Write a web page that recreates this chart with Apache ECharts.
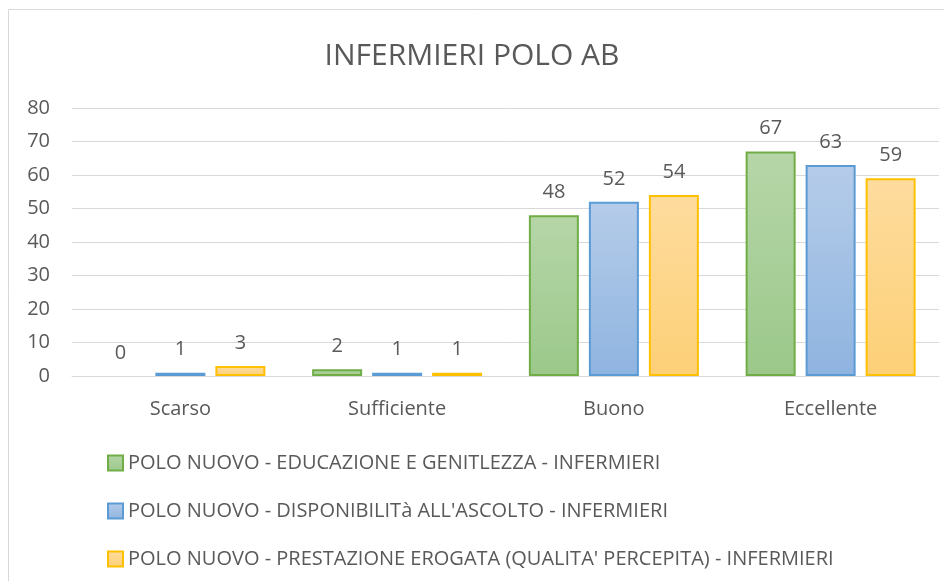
<!DOCTYPE html>
<html>
<head>
<meta charset="utf-8">
<script src="https://cdn.jsdelivr.net/npm/echarts@6/dist/echarts.min.js"></script>
<style>
  html, body { margin: 0; padding: 0; background: #fff; }
  #chart { width: 944px; height: 581px; }
</style>
</head>
<body>
<div id="chart"></div>
<script>
// categorie asse x
var categorie = ['Scarso', 'Sufficiente', 'Buono', 'Eccellente']
// serie
var nomiSerie = [
  'POLO NUOVO - EDUCAZIONE E GENITLEZZA - INFERMIERI',
  "POLO NUOVO - DISPONIBILITà ALL'ASCOLTO - INFERMIERI",
  "POLO NUOVO - PRESTAZIONE EROGATA (QUALITA' PERCEPITA) - INFERMIERI",
]
var educazione = [0, 2, 48, 67]
var disponibilita = [1, 1, 52, 63]
var prestazione = [3, 1, 54, 59]

var chart = echarts.init(document.getElementById('chart'))
var font = 'Open Sans'
var grigio = '#595959'

function grad(top, bottom) {
  return new echarts.graphic.LinearGradient(0, 0, 0, 1, [
    { offset: 0, color: top },
    { offset: 1, color: bottom },
  ])
}

function serie(nome, dati, top, bottom, bordo) {
  return {
    name: nome,
    type: 'bar',
    // lo zero non ha barra visibile, solo l'etichetta
    data: dati.map(function (v) {
      return v === 0 ? { value: v, itemStyle: { borderWidth: 0, color: 'rgba(0,0,0,0)' } } : v
    }),
    barWidth: 50,
    barGap: '20%',
    itemStyle: {
      color: grad(top, bottom),
      borderColor: bordo,
      borderWidth: 2,
    },
    label: {
      show: true,
      position: 'top',
      distance: 13,
      color: grigio,
      fontSize: 20,
      fontFamily: font,
    },
  }
}

var option = {
  animation: false,
  textStyle: { fontFamily: font },
  graphic: [
    {
      type: 'rect',
      shape: { x: 8.5, y: 9.5, width: 960, height: 600 },
      style: { fill: 'none', stroke: '#d9d9d9', lineWidth: 1 },
      silent: true,
    },
  ],
  title: {
    text: 'INFERMIERI POLO AB',
    left: 'center',
    top: 36,
    textStyle: { color: grigio, fontSize: 30, fontWeight: 'normal', fontFamily: font },
  },
  grid: { left: 72, right: 5, top: 108, bottom: 205 },
  legend: {
    orient: 'vertical',
    left: 107,
    top: 449,
    height: 140,
    padding: 0,
    itemWidth: 15,
    itemHeight: 15,
    itemGap: 20,
    icon: 'rect',
    textStyle: { color: grigio, fontSize: 20, lineHeight: 28, fontFamily: font },
    data: nomiSerie,
  },
  xAxis: {
    type: 'category',
    data: categorie,
    axisLine: { lineStyle: { color: '#d9d9d9', width: 1 } },
    axisTick: { show: false },
    axisLabel: { color: grigio, fontSize: 20, margin: 23, fontFamily: font },
  },
  yAxis: {
    type: 'value',
    min: 0,
    max: 80,
    interval: 10,
    axisLine: { show: false },
    axisTick: { show: false },
    splitLine: { lineStyle: { color: '#d9d9d9', width: 1 } },
    axisLabel: { color: grigio, fontSize: 20, margin: 22, fontFamily: font },
  },
  series: [
    serie(nomiSerie[0], educazione, '#b6d6a8', '#9bc88a', '#70ad47'),
    serie(nomiSerie[1], disponibilita, '#b5cce9', '#8fb4e0', '#5b9bd5'),
    serie(nomiSerie[2], prestazione, '#fedc9e', '#fdd077', '#ffc000'),
  ],
}

chart.setOption(option)
window.addEventListener('resize', function () {
  chart.resize()
})
</script>
</body>
</html>
